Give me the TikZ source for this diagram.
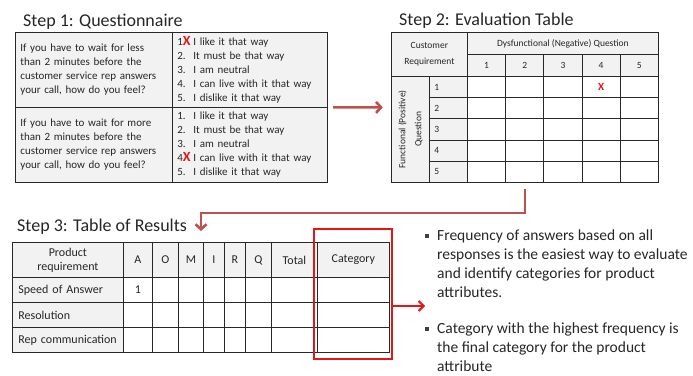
\documentclass[tikz,border=0pt]{standalone}
\usepackage{fontspec}
\setmainfont{Carlito}
\usetikzlibrary{arrows.meta,fit}

\definecolor{linegray}{RGB}{40,40,40}
\definecolor{cellgray}{RGB}{242,242,242}
\definecolor{textgray}{RGB}{38,38,38}
\definecolor{arrowred}{RGB}{192,80,77}
\definecolor{markred}{RGB}{228,22,22}

\newcommand{\qfont}{\fontsize{11}{14}\selectfont}
\newcommand{\efont}{\fontsize{9.5}{16}\selectfont}
\newcommand{\rfont}{\fontsize{12}{14}\selectfont}
\newcommand{\nfont}{\fontsize{15.5}{19}\selectfont}
\newcommand{\qitem}[1]{\makebox[16pt][l]{#1}}
\newcommand{\qmark}[1]{\makebox[16pt][l]{#1\textcolor{markred}{\bfseries\fontsize{14}{14}\selectfont X}}}
\newcommand{\notebullet}{\textcolor{darkgray}{\raisebox{3pt}{\rule{3.8pt}{3.8pt}}}\hspace{8.2pt}}

\tikzstyle{step_title}=[anchor=base west, inner sep=0pt, font=\fontsize{18}{18}\selectfont, text=textgray]
\tikzstyle{table_cell}=[rectangle, draw=linegray, line width=0.8pt, anchor=north west,
    inner sep=0pt, text=textgray]
\tikzstyle{head_cell}=[table_cell, fill=cellgray]
\tikzstyle{body_cell}=[table_cell, fill=white]
\tikzstyle{step_arrow}=[draw=arrowred, line width=2.6pt, -{Straight Barb[length=5pt, width=11pt]}]
\tikzstyle{hit_arrow}=[draw=markred, line width=2pt, -{Straight Barb[length=5pt, width=10pt]}]
\tikzstyle{note_text}=[anchor=north west, align=left, inner sep=0pt, font=\nfont, text=textgray]

\begin{document}
\begin{tikzpicture}[x=1pt, y=-1pt]
  \useasboundingbox (0,0) rectangle (693,375);

  % Step 1: the two questions with their five answers
  \node[step_title] (title1) at (23,26.5) {Step 1: Questionnaire};
  \node[head_cell, minimum width=157pt, minimum height=75pt, text width=147pt, align=left, font=\qfont] (q-11) at (15,32)
    {If you have to wait for less\\than 2 minutes before the\\customer service rep answers\\your call, how do you feel?};
  \node[head_cell, minimum width=155pt, minimum height=75pt, text width=145pt, align=left, font=\qfont] (q-12) at (172,32)
    {\qmark{1}I like it that way\\\qitem{2.}It must be that way\\\qitem{3.}I am neutral\\\qitem{4.}I can live with it that way\\\qitem{5.}I dislike it that way};
  \node[head_cell, minimum width=157pt, minimum height=75pt, text width=147pt, align=left, font=\qfont] (q-21) at (15,107)
    {If you have to wait for more\\than 2 minutes before the\\customer service rep answers\\your call, how do you feel?};
  \node[head_cell, minimum width=155pt, minimum height=75pt, text width=145pt, align=left, font=\qfont] (q-22) at (172,107)
    {\qitem{1.}I like it that way\\\qitem{2.}It must be that way\\\qitem{3.}I am neutral\\\qmark{4}I can live with it that way\\\qitem{5.}I dislike it that way};
  \node[fit=(q-11)(q-22), inner sep=0pt] (quest) {};

  % Step 2: functional answer against dysfunctional answer
  \node[step_title] (title2) at (399,25.5) {Step 2: Evaluation Table};
  \node[head_cell, minimum width=76pt, minimum height=44pt, align=center, font=\efont] (ev-corner) at (391,32) {Customer\\Requirement};
  \node[head_cell, minimum width=191pt, minimum height=22pt, font=\efont] (ev-top) at (467,32) {Dysfunctional (Negative) Question};
  \foreach \i in {1,...,5} {
      \node[head_cell, minimum width=38.2pt, minimum height=22pt, font=\efont] (ev-col-\i) at ({467+(\i-1)*38.2},54) {\i};
  }
  \node[head_cell, minimum width=38pt, minimum height=106pt] (ev-side) at (391,76) {};
  \node[rotate=90, align=center, font=\efont, text=textgray, inner sep=0pt] (ev-side-label) at (ev-side.center) {Functional (Positive)\\Question};
  \foreach \j in {1,...,5} {
      % Row number, then the five empty cells of the row
      \node[head_cell, minimum width=38pt, minimum height=21.2pt, text width=28pt, align=left, font=\efont] (ev-row-\j) at (429,{76+(\j-1)*21.2}) {\j};
      \foreach \i in {1,...,5}
          \node[body_cell, minimum width=38.2pt, minimum height=21.2pt] (ev-\i-\j) at ({467+(\i-1)*38.2},{76+(\j-1)*21.2}) {};
  }
  \node[text=markred, font=\bfseries\fontsize{11}{11}\selectfont, inner sep=0pt] (ev-x) at (ev-4-1) {X};
  \node[fit=(ev-corner)(ev-5-5), inner sep=0pt] (evaltab) {};

  % Step 3: counted answers per requirement
  \node[step_title] (title3) at (17,231.5) {Step 3: Table of Results};
  \node[head_cell, minimum width=111pt, minimum height=35pt, align=center, font=\rfont] (res-head) at (12,242) {Product\\requirement};
  \foreach \x/\w/\lbl/\n in {123/29/A/a, 152/26/O/o, 178/25/M/m, 203/21/I/i, 224/21/R/r, 245/26/Q/q, 271/46/Total/total, 317/72/Category/cat} {
      \node[head_cell, minimum width=\w pt, minimum height=35pt, font=\rfont] (res-\n) at (\x,242) {\lbl};
  }
  \foreach \y/\lbl/\k in {277/Speed of Answer/1, 302/Resolution/2, 327/Rep communication/3} {
      \node[head_cell, minimum width=111pt, minimum height=25pt, text width=99pt, align=left, font=\rfont] (res-row-\k) at (12,\y) {\lbl};
      \foreach \x/\w/\n in {123/29/a, 152/26/o, 178/25/m, 203/21/i, 224/21/r, 245/26/q, 271/46/total, 317/72/cat}
          \node[body_cell, minimum width=\w pt, minimum height=25pt] (res-\n-\k) at (\x,\y) {};
  }
  \node[font=\rfont, text=textgray, inner sep=0pt] (res-one) at (res-a-1) {1};

  % Category column is framed in red
  \node[draw=markred, line width=2.4pt, minimum width=78pt, minimum height=130pt, anchor=north west, inner sep=0pt] (catbox) at (313,228) {};

  % Notes on the right
  \node[note_text] (note1) at (437,230) {\llap{\notebullet}Frequency of answers based on all\\responses is the easiest way to evaluate\\and identify categories for product\\attributes.};
  \node[note_text] (note2) at (437,323) {\llap{\notebullet}Category with the highest frequency is\\the final category for the product\\attribute};

  % Arrows between the steps
  \coordinate (drop) at (201,231);
  \coordinate (notetip) at (425,306);
  \draw[step_arrow] ([xshift=5pt]quest.east) -- ([xshift=-8pt]evaltab.west);
  \draw[step_arrow] ([yshift=-6pt]evaltab.south) -- ++(0,24) -| (drop);
  \draw[hit_arrow] (catbox.east |- notetip) -- (notetip);

\end{tikzpicture}
\end{document}
